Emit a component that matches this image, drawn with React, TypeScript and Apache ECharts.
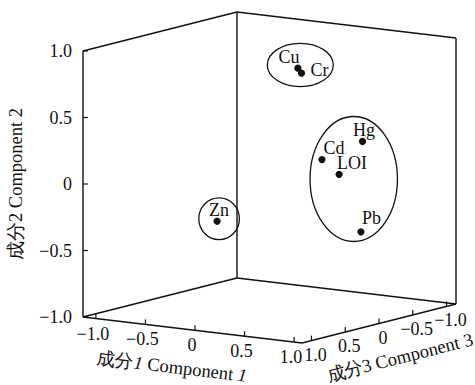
import React, { useEffect, useRef } from "react";
import * as echarts from "echarts";

// ---------- data ----------
const elements = ["Cu", "Cr", "Hg", "Cd", "LOI", "Pb", "Zn"];
const component1 = [0.2, 0.25, 0.9, 0.75, 0.8, 0.85, 0.08];
const component2 = [0.83, 0.8, 0.35, 0.25, 0.12, -0.34, -0.2];
const component3 = [-0.09, -0.07, -0.02, 0.36, 0.18, -0.07, 0.93];
const tickValues = [-1, -0.5, 0, 0.5, 1];
const tickLabels = ["\u22121.0", "\u22120.5", "0", "0.5", "1.0"];
const groups = [["Cu", "Cr"], ["Hg", "Cd", "LOI", "Pb"], ["Zn"]];

// ---------- layout / style ----------
const BOX = { x1: [-1.13, 1.08], x2: [-1, 1], x3: [-1.14, 1.14] };
// screen extents of the box edges (v upwards)
const E1 = [219, -26];
const E2 = [0, 266];
const E3 = [154, 39];
const LABEL_OFFSETS: Record<string, number[]> = {
  Cu: [-9, -11],
  Cr: [18, -3],
  Hg: [1.5, -11.5],
  Cd: [12, -12],
  LOI: [13, -11],
  Pb: [10.5, -14],
  Zn: [2, -11],
};
const ELLIPSES = [
  { dx: 0.6, dy: -5.7, rx: 33, ry: 21.7 },
  { dx: 7.6, dy: 2.2, rx: 43.7, ry: 62.5 },
  { dx: 2, dy: -2.5, rx: 20.3, ry: 20.8 },
];
const FONT = "'Liberation Serif', 'DejaVu Serif', serif";
const INK = "#111";
const FS = 18;
const TFS = 18.5;

function project(x1: number, x2: number, x3: number): number[] {
  const t1 = (x1 - BOX.x1[0]) / (BOX.x1[1] - BOX.x1[0]);
  const t2 = (x2 - BOX.x2[0]) / (BOX.x2[1] - BOX.x2[0]);
  const t3 = (BOX.x3[1] - x3) / (BOX.x3[1] - BOX.x3[0]);
  return [t1 * E1[0] + t2 * E2[0] + t3 * E3[0], t1 * E1[1] + t2 * E2[1] + t3 * E3[1]];
}

const txt = (text: string, x: number, y: number, opts: any = {}) => ({
  type: "text",
  x,
  y,
  rotation: opts.rotation || 0,
  style: {
    text,
    x: 0,
    y: 0,
    fill: INK,
    fontSize: opts.fontSize || FS,
    fontFamily: FONT,
    align: opts.align || "center",
    verticalAlign: "middle",
    rich: opts.rich,
  },
});

const ln = (a: number[], b: number[], w = 1.4) => ({
  type: "line",
  shape: { x1: a[0], y1: a[1], x2: b[0], y2: b[1] },
  style: { stroke: INK, lineWidth: w },
});

function renderFrame(params: any, api: any) {
  const P = (a: number, b: number, c: number) => api.coord(project(a, b, c));
  const [a0, a1] = BOX.x1;
  const [b0, b1] = BOX.x2;
  const [c0, c1] = BOX.x3;
  const edges = [
    [[a0, b0, c1], [a0, b1, c1]],
    [[a0, b0, c0], [a0, b1, c0]],
    [[a1, b0, c0], [a1, b1, c0]],
    [[a0, b1, c1], [a0, b1, c0]],
    [[a0, b1, c0], [a1, b1, c0]],
    [[a0, b0, c1], [a0, b0, c0]],
    [[a0, b0, c0], [a1, b0, c0]],
    [[a0, b0, c1], [a1, b0, c1]],
    [[a1, b0, c1], [a1, b0, c0]],
  ];
  const children: any[] = edges.map(([p, q]) =>
    ln(P(p[0], p[1], p[2]), P(q[0], q[1], q[2]))
  );
  tickValues.forEach((t, i) => {
    const p2 = P(a0, t, c1);
    children.push(ln(p2, [p2[0] + 5, p2[1]], 1.2));
    children.push(txt(tickLabels[i], p2[0] - 11, p2[1], { align: "right" }));
    const p1 = P(t, b0, c1);
    children.push(ln(p1, [p1[0], p1[1] - 5], 1.2));
    children.push(txt(tickLabels[i], p1[0] - 3, p1[1] + 15));
    const p3 = P(a1, b0, t);
    children.push(ln(p3, [p3[0], p3[1] - 5], 1.2));
    children.push(txt(tickLabels[i], p3[0] + 4, p3[1] + 14));
  });
  // axis titles
  const m2 = P(a0, 0, c1);
  children.push(
    txt("成分2 Component 2", m2[0] - 67, m2[1], { rotation: Math.PI / 2, fontSize: TFS })
  );
  const s1 = P(a0, b0, c1);
  const e1 = P(a1, b0, c1);
  children.push(
    txt("{a|成分}{i|1}{a| Component }{i|1}", (s1[0] + e1[0]) / 2 - 21, (s1[1] + e1[1]) / 2 + 37, {
      rotation: -Math.atan2(e1[1] - s1[1], e1[0] - s1[0]),
      fontSize: TFS,
      rich: {
        a: { fontSize: TFS, fontFamily: FONT, fill: INK },
        i: { fontSize: TFS, fontFamily: FONT, fill: INK, fontStyle: "italic" },
      },
    })
  );
  const s3 = P(a1, b0, c1);
  const e3 = P(a1, b0, c0);
  children.push(
    txt("成分3 Component 3", (s3[0] + e3[0]) / 2 + 21, (s3[1] + e3[1]) / 2 + 34, {
      rotation: -Math.atan2(e3[1] - s3[1], e3[0] - s3[0]),
      fontSize: TFS,
    })
  );
  return { type: "group", children };
}

function renderPoint(params: any, api: any) {
  const i = params.dataIndex;
  const c = api.coord(project(api.value(0), api.value(1), api.value(2)));
  const off = LABEL_OFFSETS[elements[i]];
  return {
    type: "group",
    children: [
      { type: "circle", shape: { cx: c[0], cy: c[1], r: 3.6 }, style: { fill: INK } },
      txt(elements[i], c[0] + off[0], c[1] + off[1]),
    ],
  };
}

function renderEllipse(params: any, api: any) {
  const g = groups[params.dataIndex];
  const lay = ELLIPSES[params.dataIndex];
  let sx = 0;
  let sy = 0;
  g.forEach((name) => {
    const k = elements.indexOf(name);
    const c = api.coord(project(component1[k], component2[k], component3[k]));
    sx += c[0];
    sy += c[1];
  });
  return {
    type: "ellipse",
    shape: { cx: sx / g.length + lay.dx, cy: sy / g.length + lay.dy, rx: lay.rx, ry: lay.ry },
    style: { fill: "none", stroke: INK, lineWidth: 1.3 },
  };
}

export default function App() {
  const ref = useRef<HTMLDivElement>(null);
  useEffect(() => {
    const chart = echarts.init(ref.current!, null, { renderer: "svg" });
    const corners = [
      project(BOX.x1[0], BOX.x2[0], BOX.x3[1]),
      project(BOX.x1[1], BOX.x2[0], BOX.x3[1]),
      project(BOX.x1[0], BOX.x2[1], BOX.x3[0]),
      project(BOX.x1[1], BOX.x2[1], BOX.x3[0]),
      project(BOX.x1[1], BOX.x2[0], BOX.x3[0]),
    ];
    const us = corners.map((c) => c[0]);
    const vs = corners.map((c) => c[1]);
    const uMin = Math.min(...us);
    const uMax = Math.max(...us);
    const vMin = Math.min(...vs);
    const vMax = Math.max(...vs);
    chart.setOption({
      animation: false,
      grid: {
        left: 83,
        top: 12,
        width: uMax - uMin,
        height: vMax - vMin,
        outerBoundsMode: "none",
      } as any,
      xAxis: { type: "value", min: uMin, max: uMax, show: false },
      yAxis: { type: "value", min: vMin, max: vMax, show: false },
      series: [
        { type: "custom", silent: true, renderItem: renderFrame, data: [[0, 0]] },
        {
          type: "custom",
          silent: true,
          renderItem: renderEllipse,
          data: groups.map((_, i) => [i, 0]),
        },
        {
          type: "custom",
          silent: true,
          renderItem: renderPoint,
          data: elements.map((_, i) => [component1[i], component2[i], component3[i]]),
        },
      ],
    } as any);
    return () => chart.dispose();
  }, []);
  return (
    <div
      ref={ref}
      style={{ position: "absolute", left: 0, top: 0, width: 475, height: 385, background: "#fff" }}
    />
  );
}
